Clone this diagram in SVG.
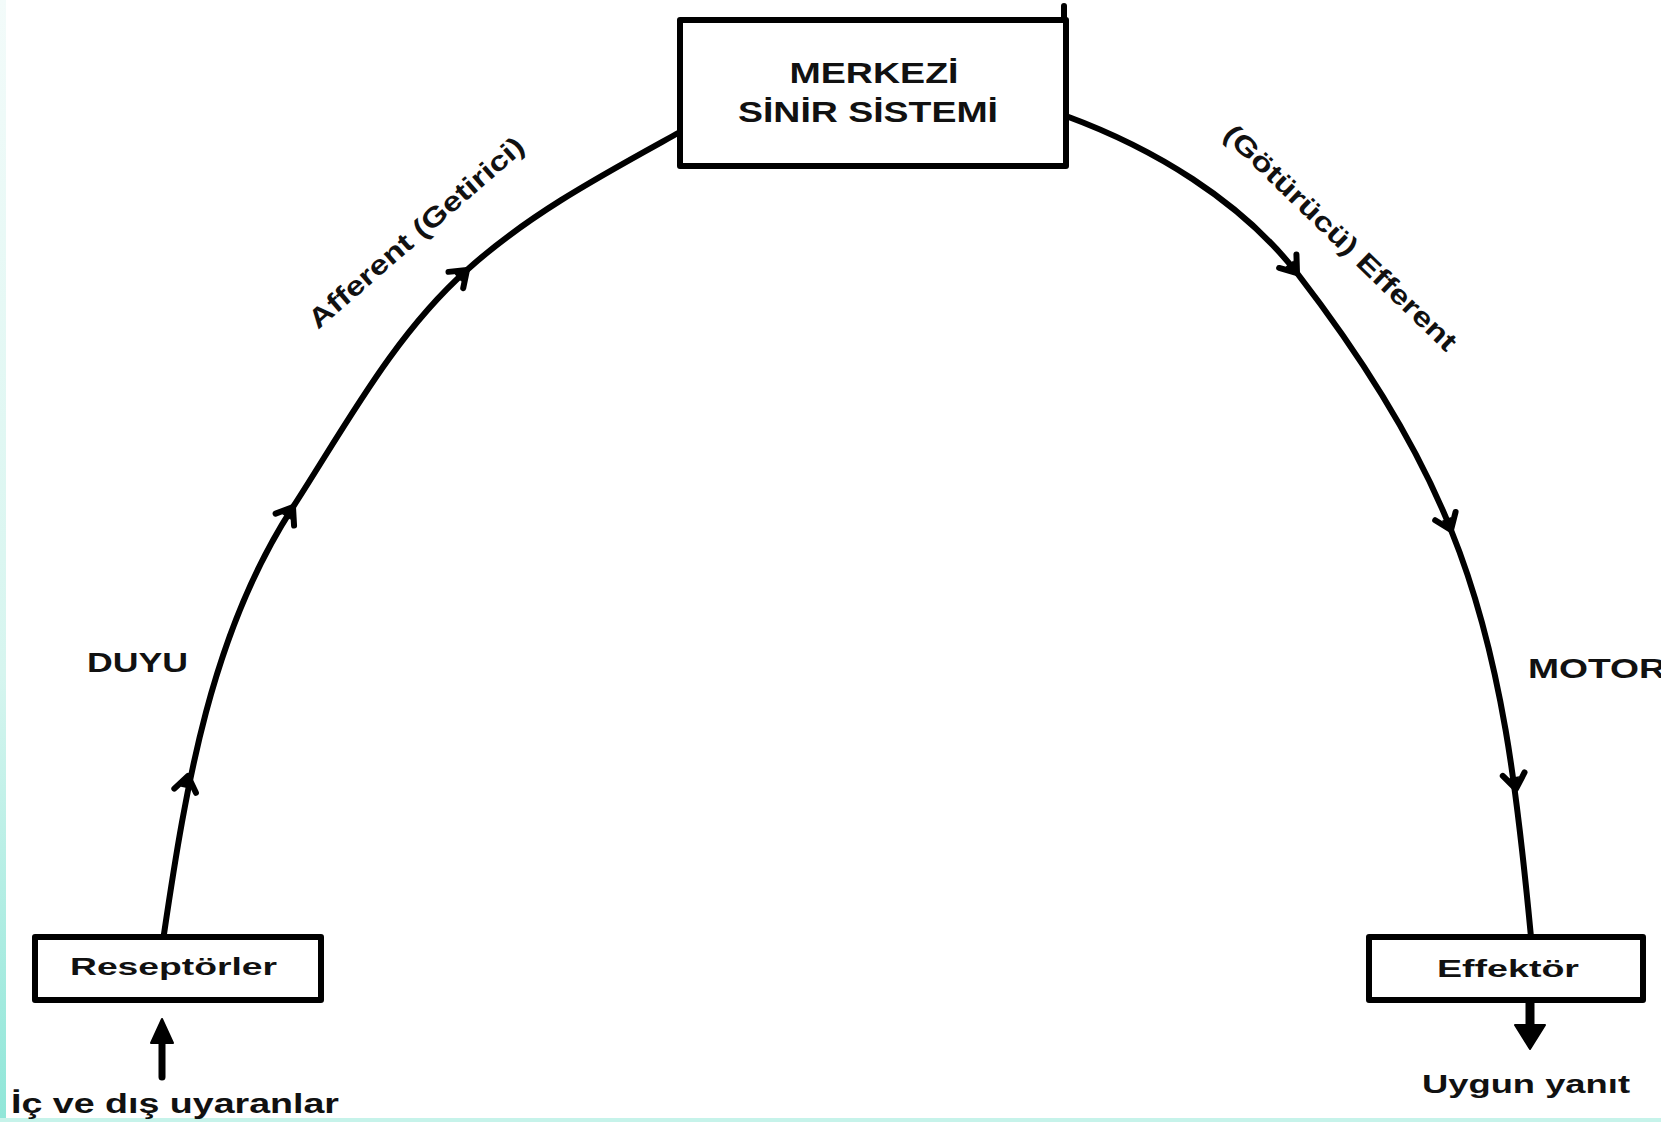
<svg xmlns="http://www.w3.org/2000/svg" xmlns:xlink="http://www.w3.org/1999/xlink" width="1661" height="1122" viewBox="0 0 1661 1122">
  <defs>
    <linearGradient id="edge" x1="0" y1="0" x2="0" y2="1">
      <stop offset="0" stop-color="#f3fbfa"/>
      <stop offset="0.6" stop-color="#d6f5ef"/>
      <stop offset="1" stop-color="#8fe6d8"/>
    </linearGradient>
    <g id="chev">
      <path d="M-15,-11 L0,0 L-15,11" fill="none" stroke="#000" stroke-width="6" stroke-linecap="round" stroke-linejoin="round"/>
      <path d="M2,0 L-12,-5 L-12,5 Z" fill="#000"/>
    </g>
  </defs>
  <style>
    .box { fill: #fff; stroke: #000; stroke-width: 6; stroke-linejoin: round; }
    .lbl { font-family: "Liberation Sans", Arial, sans-serif; font-weight: bold; fill: #111; }
    .wire { fill: none; stroke: #000; stroke-width: 6; stroke-linecap: round; }
  </style>
  <rect x="0" y="0" width="1661" height="1122" fill="#fff"/>
  <rect x="0" y="0" width="6" height="1122" fill="url(#edge)"/>
  <rect x="0" y="1118" width="1661" height="4" fill="#c6f3ea"/>

  <g id="connectors">
    <path class="wire" d="M164,934 C186,786 211,633 293,507 C346,425 394,335 467,270 C530,213 606,173 680,132"/>
    <path class="wire" d="M1066,116 C1153,148 1240,200 1297,273 C1358,352 1414,437 1451,530 C1503,658 1518,800 1531,937"/>
    <use xlink:href="#chev" transform="translate(188,776) rotate(-79)"/>
    <use xlink:href="#chev" transform="translate(293,507) rotate(-57)"/>
    <use xlink:href="#chev" transform="translate(467,270) rotate(-42)"/>
    <use xlink:href="#chev" transform="translate(1297,273) rotate(52)"/>
    <use xlink:href="#chev" transform="translate(1451,530) rotate(68)"/>
    <use xlink:href="#chev" transform="translate(1516,789) rotate(81)"/>
    <!-- input arrow -->
    <line x1="162" y1="1077" x2="162" y2="1036" stroke="#000" stroke-width="7" stroke-linecap="round"/>
    <path d="M162,1019 L173,1043 L151,1043 Z" fill="#000" stroke="#000" stroke-width="2" stroke-linejoin="round"/>
    <!-- output arrow -->
    <line x1="1530" y1="1000" x2="1530" y2="1028" stroke="#000" stroke-width="9"/>
    <path d="M1530,1049 L1515,1025 L1545,1025 Z" fill="#000" stroke="#000" stroke-width="2" stroke-linejoin="round"/>
  </g>

  <g id="cns">
    <rect class="box" x="680" y="20" width="386" height="146"/>
    <line x1="1064" y1="20" x2="1064" y2="6" stroke="#000" stroke-width="6" stroke-linecap="round"/>
    <text class="lbl" x="874" y="83" font-size="30" text-anchor="middle" textLength="169" lengthAdjust="spacingAndGlyphs">MERKEZİ</text>
    <text class="lbl" x="868" y="122" font-size="30" text-anchor="middle" textLength="260" lengthAdjust="spacingAndGlyphs">SİNİR SİSTEMİ</text>
  </g>

  <g id="receptors">
    <rect class="box" x="35" y="937" width="286" height="63" stroke-width="5"/>
    <text class="lbl" x="70" y="975" font-size="24" textLength="207" lengthAdjust="spacingAndGlyphs">Reseptörler</text>
  </g>

  <g id="effector">
    <rect class="box" x="1369" y="937" width="274" height="63" stroke-width="5"/>
    <text class="lbl" x="1437" y="977" font-size="24" textLength="142" lengthAdjust="spacingAndGlyphs">Effektör</text>
  </g>

  <g id="labels">
    <text class="lbl" x="87" y="672" font-size="27" textLength="101" lengthAdjust="spacingAndGlyphs">DUYU</text>
    <text class="lbl" x="1528" y="678" font-size="27" textLength="138" lengthAdjust="spacingAndGlyphs">MOTOR</text>
    <text class="lbl" x="11" y="1113" font-size="28" textLength="328" lengthAdjust="spacingAndGlyphs">İç ve dış uyaranlar</text>
    <text class="lbl" x="1422" y="1093" font-size="26" textLength="208" lengthAdjust="spacingAndGlyphs">Uygun yanıt</text>
    <text class="lbl" font-size="27" textLength="276" lengthAdjust="spacingAndGlyphs" transform="translate(318,330) rotate(-41)">Afferent (Getirici)</text>
    <text class="lbl" font-size="27" textLength="312" lengthAdjust="spacingAndGlyphs" transform="translate(1222,136) rotate(44)">(Götürücü) Efferent</text>
  </g>
</svg>
